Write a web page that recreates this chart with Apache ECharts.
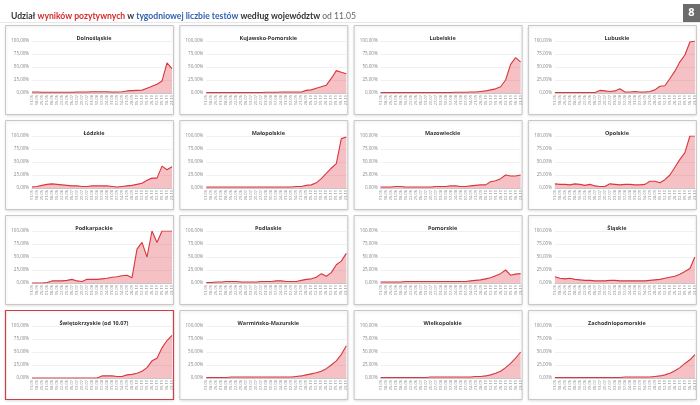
<!DOCTYPE html>
<html><head><meta charset="utf-8">
<script src="https://cdn.jsdelivr.net/npm/echarts@6/dist/echarts.min.js"></script>
<style>html,body{margin:0;padding:0;background:#fff}#c{width:700px;height:405px}</style>
</head><body><div id="c"></div>
<script>
const categories = ['11.05','18.05','25.05','01.06','08.06','15.06','22.06','29.06','06.07','13.07','20.07','27.07','03.08','10.08','17.08','24.08','31.08','07.09','14.09','21.09','28.09','05.10','12.10','19.10','26.10','02.11','09.11','16.11','23.11'];
const yTicks = [0, 25, 50, 75, 100];
const regionNames = ['Dolnośląskie','Kujawsko-Pomorskie','Lubelskie','Lubuskie','Łódzkie','Małopolskie','Mazowieckie','Opolskie','Podkarpackie','Podlaskie','Pomorskie','Śląskie','Świętokrzyskie (od 10.07)','Warmińsko-Mazurskie','Wielkopolskie','Zachodniopomorskie'];

const dolnoslaskie = [2,2,1.5,1.5,1.5,1.5,1.5,1.5,1.5,2,2,2,2.5,2.5,2.5,2.5,2,2,2.5,4,4.5,5,5.5,9,13,17,23,58,47];
const kujawskoPomorskie = [1,1,1,1,1,1,1,1,1,1,1,1,1.5,1.5,1.5,2,2,2,2,2,5,6,9,12,15,28,43,40,37];
const lubelskie = [1,1,1,1,1,1,1,1,1,1,1,1,1,1,1,1.5,1.5,1.5,2,2,3,4,6,8,12,25,55,68,60];
const lubuskie = [1,1,1,1,1,1,1,1,1,5,4,3,4,8,2,2,3,2,2,3,6,13,14,28,42,60,73,98,100];
const lodzkie = [2,3,5,7,8,7,6,5,4,4,3,3,4,4,4,4,3,2,3,4,5,7,9,15,19,19,42,35,41];
const malopolskie = [2,2,2,2,2,2,2,2,2,2,2,2,2,2,2,2,2,2,3,3,5,6,10,18,28,38,47,95,98];
const mazowieckie = [2,2,2,3,3,2,2,2,2,2,2,3,3,3,4,4,3,3,4,5,6,6,12,14,18,25,23,23,25];
const opolskie = [8,7,7,6,8,7,5,7,4,3,3,8,7,6,7,7,6,6,7,13,13,10,16,25,40,55,68,100,100];
const podkarpackie = [0,0,0,1,4,4,4,5,7,4,3,7,7,7,8,9,11,12,14,15,10,65,78,50,100,78,100,100,100];
const podlaskie = [1,1,2,2,3,3,3,2,2,2,2,3,3,3,4,4,3,3,3,5,7,8,11,18,13,20,35,42,57];
const pomorskie = [2,2,2,2,2,3,3,3,3,3,3,3,3,3,3,3,3,3,4,5,6,8,10,14,18,25,15,17,18];
const slaskie = [12,9,8,9,7,6,5,5,4,4,4,5,5,4,4,4,4,4,4,5,6,7,9,11,13,17,22,28,50];
const swietokrzyskie = [0,0,0,0,0,0,0,0,0,0,0,0,0,0,4,4,4,3,3,6,7,9,13,20,33,38,58,72,82];
const warminskoMazurskie = [1,1,1,1,1,2,2,2,2,2,2,2,2,2,2,2,2,2,3,4,6,8,10,13,18,25,33,45,62];
const wielkopolskie = [1,1,1,1,1,1,1,1,1,1,2,2,2,2,2,2,2,2,2,3,3,4,6,9,13,20,28,38,50];
const zachodniopomorskie = [1,1,1,1,1,1,1,1,1,1,1,1,1,1,2,2,2,2,2,2,3,4,6,9,14,20,28,35,45];

const seriesData = [dolnoslaskie,kujawskoPomorskie,lubelskie,lubuskie,lodzkie,malopolskie,mazowieckie,opolskie,podkarpackie,podlaskie,pomorskie,slaskie,swietokrzyskie,warminskoMazurskie,wielkopolskie,zachodniopomorskie];

const chart = echarts.init(document.getElementById('c'), null, {renderer:'canvas'});
const colX = [5, 179.3, 353.6, 527.9];
const rowY = [25, 120, 215, 310];
const PW = 168, PH = 89;
const grids=[], xAxes=[], yAxes=[], series=[], titles=[], graphics=[];

const TF = 8.6;
const TFam = 'Lato';
titles.push({
  left: 6, top: 7,
  text: '{a|Udział }{r|wyników pozytywnych}{a| w }{b|tygodniowej liczbie testów}{a| według województw }{n|od 11.05}',
  textStyle: {
    rich: {
      a: {fontFamily:TFam, fontWeight:'bold', fontSize:TF, color:'#333'},
      r: {fontFamily:TFam, fontWeight:'bold', fontSize:TF, color:'#d42a2a'},
      b: {fontFamily:TFam, fontWeight:'bold', fontSize:TF, color:'#2f5fb0'},
      n: {fontFamily:TFam, fontWeight:'normal', fontSize:TF, color:'#666'}
    }
  }
});

graphics.push({type:'line', shape:{x1:0,y1:22.5,x2:700,y2:22.5}, style:{stroke:'#e8e8e8', lineWidth:1}, silent:true});
graphics.push({type:'rect', shape:{x:683,y:4,width:17,height:18}, style:{fill:'#6b6b6b'}, silent:true});
graphics.push({type:'text', x:691.5, y:13, style:{text:'8', fill:'#fff', font:'bold 11px "Open Sans"', textAlign:'center', textVerticalAlign:'middle'}, silent:true});

for (let i=0;i<16;i++){
  const c=i%4, r=Math.floor(i/4);
  const px=colX[c], py=rowY[r];
  const highlighted = i===12;
  graphics.push({type:'rect', shape:{x:px+0.5,y:py+0.5,width:PW,height:PH},
    style:{fill:'#fff', stroke: highlighted ? '#c9414a' : '#c8c8c8', lineWidth: highlighted?1.2:1,
      shadowBlur:3, shadowColor:'rgba(0,0,0,0.12)', shadowOffsetY:1}, z:-1, silent:true});
  titles.push({text: regionNames[i], left: px+PW/2, top: py+5, textAlign:'center',
    textStyle:{fontSize:5.5, fontWeight:'bold', color:'#333', fontFamily:'Open Sans'}});
  grids.push({left:px+27, top:py+16, width:140, height:52});
  xAxes.push({type:'category', gridIndex:i, data:categories, boundaryGap:false,
    axisLine:{show:true, lineStyle:{color:'#bbb', width:0.8}}, axisTick:{show:false},
    axisLabel:{interval:0, rotate:90, fontSize:4, color:'#888', margin:2, hideOverlap:false, fontFamily:'Open Sans'},
    splitLine:{show:false}});
  yAxes.push({type:'value', gridIndex:i, min:0, max:100, interval:25,
    axisLine:{show:false}, axisTick:{show:false},
    axisLabel:{fontSize:4.5, color:'#888', margin:3, fontFamily:'Open Sans', formatter: v => v.toFixed(2).replace('.',',')+'%'},
    splitLine:{lineStyle:{color:'#ececec', width:0.8}}});
  series.push({type:'line', xAxisIndex:i, yAxisIndex:i, data:seriesData[i], symbol:'none', silent:true,
    lineStyle:{color:'#d9363e', width:1.1},
    areaStyle:{color:'rgba(230,80,88,0.5)'}, animation:false});
}

chart.setOption({animation:false, title:titles, grid:grids, xAxis:xAxes, yAxis:yAxes, series:series, graphic:graphics});
</script></body></html>
